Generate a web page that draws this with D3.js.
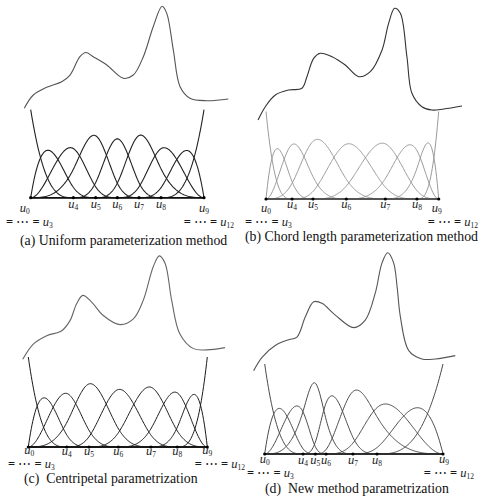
<!DOCTYPE html>
<html>
<head>
<meta charset="utf-8">
<script src="https://cdn.jsdelivr.net/npm/d3@7"></script>
<style>
  body { margin: 0; background: #fff; }
  svg { display: block; }
  .math { font-family: 'Liberation Serif', 'DejaVu Serif', serif; fill: #1a1a1a; }
  .caption { font-family: 'Liberation Serif', serif; font-size: 13.8px; fill: #111; white-space: pre; }
</style>
</head>
<body>
<svg width="483" height="499"></svg>
<script>
// knot values u0, u4..u8, u9 (normalised parameter, u0=0, u9=1)
const knotsA = [0, 0.246, 0.375, 0.5, 0.625, 0.752, 1];
const knotsB = [0, 0.151, 0.272, 0.465, 0.691, 0.874, 1];
const knotsC = [0, 0.215, 0.339, 0.503, 0.685, 0.832, 1];
const knotsD = [0, 0.215, 0.284, 0.344, 0.495, 0.630, 1];

const knotNames = ['0', '4', '5', '6', '7', '8', '9'];

// data curves [parameter, value], value in basis-function units
const profileA = [[-0.037,1.016],[0.015,1.167],[0.092,1.255],[0.179,1.318],[0.227,1.394],[0.284,1.602],
  [0.318,1.65],[0.361,1.602],[0.439,1.508],[0.534,1.357],[0.592,1.394],[0.650,1.602],[0.707,1.943],
  [0.758,2.175],[0.785,2.095],[0.823,1.678],[0.862,1.261],[0.919,1.130],[1.016,1.102],[1.140,1.122]];
const profileB = [[-0.046,0.903],[-0.004,1.055],[0.054,1.189],[0.131,1.246],[0.208,1.265],[0.237,1.398],
  [0.276,1.608],[0.314,1.665],[0.382,1.626],[0.459,1.531],[0.537,1.398],[0.604,1.455],[0.672,1.703],
  [0.710,2.008],[0.745,2.179],[0.778,2.122],[0.816,1.626],[0.845,1.208],[0.903,1.055],[0.961,1.017],
  [1.029,1.029],[1.135,1.063]];
const profileC = [[-0.031,0.974],[0.028,1.143],[0.103,1.236],[0.187,1.292],[0.233,1.404],[0.270,1.592],
  [0.305,1.685],[0.354,1.610],[0.419,1.461],[0.512,1.360],[0.587,1.424],[0.642,1.629],[0.698,2.003],
  [0.732,2.124],[0.764,2.042],[0.801,1.629],[0.847,1.255],[0.922,1.093],[0.997,1.079],[1.099,1.104]];
const profileD = [[-0.062,0.925],[-0.015,1.074],[0.059,1.206],[0.135,1.270],[0.181,1.299],[0.228,1.524],
  [0.275,1.692],[0.321,1.674],[0.396,1.543],[0.499,1.404],[0.564,1.487],[0.620,1.787],[0.658,2.124],
  [0.690,2.236],[0.723,2.124],[0.743,1.85],[0.761,1.524],[0.808,1.149],[0.882,1.056],[0.957,1.056],[1.069,1.093]];

const captions = ['(a) Uniform parameterization method', '(b) Chord length parameterization method',
  '(c)  Centripetal parametrization', '(d)  New method parametrization'];

const panels = [
  {knots: knotsA, profile: profileA, caption: captions[0],
   x0: 30.7, x1: 204, base: 197.7, h: 88, innerY: 208, endY: 212, eqY: 226, u0dx: -6, u9dx: 0,
   eqL: 6, eqR: 234, capX: 20, capY: 245, curve: '#555', basis: '#222', bw: 1.1},
  {knots: knotsB, profile: profileB, caption: captions[1],
   x0: 266, x1: 438.7, base: 199, h: 87.5, innerY: 208, endY: 212, eqY: 226, u0dx: 0, u9dx: -2,
   eqL: 245, eqR: 478, capX: 245, capY: 241, curve: '#333', basis: '#9a9a9a', bw: 1},
  {knots: knotsC, profile: profileC, caption: captions[2],
   x0: 28.3, x1: 207.3, base: 447, h: 90, innerY: 455, endY: 454, eqY: 468, u0dx: 1, u9dx: 0,
   eqL: 8, eqR: 245, capX: 24, capY: 483, curve: '#666', basis: '#1a1a1a', bw: 1},
  {knots: knotsD, profile: profileD, caption: captions[3],
   x0: 264.7, x1: 443, base: 454, h: 90, innerY: 464, endY: 463, eqY: 477, u0dx: 0, u9dx: 1,
   eqL: 247, eqR: 474, capX: 265, capY: 493, curve: '#555', basis: '#4a4a4a', bw: 1}
];

const svg = d3.select('svg');

// Cox-de Boor
const basisFn = (U, i, p, t) => {
  if (p === 0) return (t >= U[i] && t < U[i + 1]) ? 1 : 0;
  let a = 0, b = 0;
  const d1 = U[i + p] - U[i], d2 = U[i + p + 1] - U[i + 1];
  if (d1 > 0) a = (t - U[i]) / d1 * basisFn(U, i, p - 1, t);
  if (d2 > 0) b = (U[i + p + 1] - t) / d2 * basisFn(U, i + 1, p - 1, t);
  return a + b;
};

const mathLabel = (g, x, y, withEq, sub, anchor) => {
  const t = g.append('text').attr('class', 'math').attr('x', x).attr('y', y)
    .attr('text-anchor', anchor || 'middle').attr('font-size', 12.5);
  if (withEq) {
    t.append('tspan').attr('font-weight', 'bold').text('= ');
    t.append('tspan').text('\u22ef ');
    t.append('tspan').attr('font-weight', 'bold').text('= ');
  }
  t.append('tspan').attr('font-style', 'italic').text('u');
  t.append('tspan').attr('font-size', 7.5).attr('dy', 2).text(sub);
};

panels.forEach(p => {
  const x = d3.scaleLinear().domain([0, 1]).range([p.x0, p.x1]);
  const y = d3.scaleLinear().domain([0, 1]).range([p.base, p.base - p.h]);
  const g = svg.append('g');

  const U = [0, 0, 0].concat(p.knots, [1, 1, 1]);
  const ts = d3.range(0, 1.0001, 1 / 240).map(t => Math.min(t, 1 - 1e-9));
  const line = d3.line().x(d => x(d[0])).y(d => y(d[1]));

  for (let i = 0; i < 9; i++) {
    g.append('path')
      .attr('d', line(ts.map(t => [t, basisFn(U, i, 3, t)])))
      .attr('fill', 'none').attr('stroke', p.basis).attr('stroke-width', p.bw);
  }

  g.append('path')
    .attr('d', line.curve(d3.curveCatmullRom.alpha(0.5))(p.profile))
    .attr('fill', 'none').attr('stroke', p.curve).attr('stroke-width', 1.1);

  g.append('line').attr('x1', x(0)).attr('x2', x(1)).attr('y1', y(0)).attr('y2', y(0))
    .attr('stroke', '#111').attr('stroke-width', 1.2);

  g.selectAll('circle').data(p.knots).enter().append('circle')
    .attr('cx', d => x(d)).attr('cy', y(0)).attr('r', 1.6).attr('fill', '#000');

  p.knots.forEach((k, j) => {
    if (j === 0) mathLabel(g, x(k) + p.u0dx, p.endY, false, knotNames[j]);
    else if (j === 6) mathLabel(g, x(k) + p.u9dx, p.endY, false, knotNames[j]);
    else mathLabel(g, x(k), p.innerY, false, knotNames[j]);
  });
  mathLabel(g, p.eqL, p.eqY, true, '3', 'start');
  mathLabel(g, p.eqR, p.eqY, true, '12', 'end');

  g.append('text').attr('class', 'caption').attr('x', p.capX).attr('y', p.capY).text(p.caption);
});
</script>
</body>
</html>
